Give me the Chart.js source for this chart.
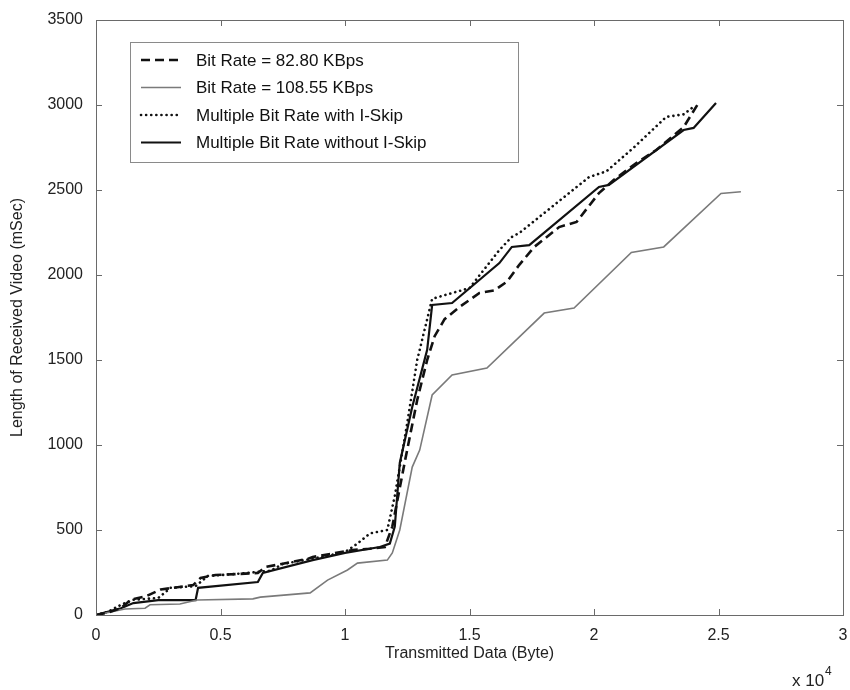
<!DOCTYPE html>
<html>
<head>
<meta charset="utf-8">
<script src="https://cdn.jsdelivr.net/npm/chart.js@4"></script>
<style>
  body { margin: 0; background: #fff; }
  #wrap { width: 850px; height: 690px; }
</style>
</head>
<body>
<div id="wrap"><canvas id="myChart" width="850" height="690"></canvas></div>
<script>
// x values are in units of 10^4 bytes, y in mSec
const seriesNames = ['Bit Rate = 82.80 KBps', 'Bit Rate = 108.55 KBps',
                     'Multiple Bit Rate with I-Skip', 'Multiple Bit Rate without I-Skip'];

const dashX = [0, 0.05, 0.1, 0.14, 0.2, 0.26, 0.32, 0.39, 0.42, 0.48, 0.65, 0.68, 0.85, 0.87, 1.03, 1.1, 1.16,
               1.19, 1.24, 1.29, 1.33, 1.36, 1.40, 1.46, 1.54, 1.60, 1.65, 1.70, 1.76, 1.86, 1.93, 2.02, 2.08,
               2.17, 2.25, 2.36, 2.42];
const dashY = [0, 15, 40, 90, 110, 150, 162, 176, 218, 235, 247, 282, 330, 341, 382, 390, 400,
               520, 900, 1265, 1500, 1640, 1740, 1812, 1894, 1910, 1960, 2060, 2165, 2282, 2312, 2482, 2560,
               2659, 2735, 2870, 3012];

const grayX = [0, 0.116, 0.197, 0.217, 0.337, 0.406, 0.63, 0.66, 0.86, 0.93, 1.01, 1.05, 1.17, 1.19, 1.22,
               1.27, 1.30, 1.35, 1.43, 1.57, 1.80, 1.92, 2.15, 2.28, 2.51, 2.59];
const grayY = [0, 35, 40, 60, 65, 88, 95, 105, 130, 205, 265, 305, 323, 365, 500,
               870, 970, 1294, 1412, 1453, 1776, 1806, 2133, 2165, 2480, 2490];

const dotX = [0, 0.05, 0.1, 0.15, 0.25, 0.3, 0.4, 0.45, 0.55, 0.7, 0.75, 0.9, 1.0, 1.05, 1.1, 1.17,
              1.2, 1.25, 1.29, 1.35, 1.43, 1.50, 1.62, 1.67, 1.70, 1.98, 2.05, 2.16, 2.29, 2.36, 2.40];
const dotY = [0, 20, 60, 90, 100, 160, 170, 230, 240, 260, 300, 340, 370, 420, 480, 500,
              700, 1130, 1500, 1860, 1894, 1923, 2147, 2224, 2247, 2576, 2610, 2750, 2930, 2945, 2990];

const solidX = [0, 0.1, 0.15, 0.25, 0.4, 0.41, 0.65, 0.67, 0.87, 1.0, 1.14, 1.18, 1.2, 1.22, 1.27, 1.33,
                1.35, 1.43, 1.62, 1.67, 1.74, 2.02, 2.06, 2.36, 2.40, 2.49];
const solidY = [0, 40, 70, 88, 88, 160, 194, 247, 323, 365, 400, 420, 520, 894, 1224, 1560,
                1824, 1835, 2070, 2165, 2176, 2518, 2530, 2853, 2865, 3012];

const xTicks = [0, 0.5, 1, 1.5, 2, 2.5, 3];
const yTicks = [0, 500, 1000, 1500, 2000, 2500, 3000, 3500];

function pts(xs, ys) {
    return xs.map((x, i) => ({x: x, y: ys[i]}));
}

const FONT = 'Liberation Sans, Arial, sans-serif';
const frameColor = '#6a6a6a';

// frame, inward tick marks on all four sides, and the x 10^4 label
const framePlugin = {
    id: 'frame',
    afterDraw(chart) {
        const ctx = chart.ctx;
        const a = chart.chartArea;
        const xs = chart.scales.x, ys = chart.scales.y;
        ctx.save();
        ctx.strokeStyle = frameColor;
        ctx.lineWidth = 1;
        ctx.strokeRect(a.left + 0.5, a.top + 0.5, a.right - a.left, a.bottom - a.top);
        ctx.beginPath();
        xTicks.forEach(v => {
            const px = Math.round(xs.getPixelForValue(v)) + 0.5;
            ctx.moveTo(px, a.bottom); ctx.lineTo(px, a.bottom - 6);
            ctx.moveTo(px, a.top); ctx.lineTo(px, a.top + 6);
        });
        yTicks.forEach(v => {
            const py = Math.round(ys.getPixelForValue(v)) + 0.5;
            ctx.moveTo(a.left, py); ctx.lineTo(a.left + 6, py);
            ctx.moveTo(a.right, py); ctx.lineTo(a.right - 6, py);
        });
        ctx.stroke();

        ctx.fillStyle = '#222';
        ctx.font = '17px ' + FONT;
        ctx.textBaseline = 'alphabetic';
        ctx.textAlign = 'left';
        ctx.fillText('x 10', 792, 686);
        ctx.font = '12px ' + FONT;
        ctx.fillText('4', 825, 675);
        ctx.restore();
    }
};

// legend box inside the plot, top-left
const legendPlugin = {
    id: 'boxLegend',
    afterDraw(chart) {
        const ctx = chart.ctx;
        const bx = 130, by = 42, bw = 388, bh = 120;
        ctx.save();
        ctx.fillStyle = '#fff';
        ctx.fillRect(bx, by, bw, bh);
        ctx.strokeStyle = '#8a8a8a';
        ctx.lineWidth = 1;
        ctx.strokeRect(bx + 0.5, by + 0.5, bw, bh);
        chart.data.datasets.forEach((ds, i) => {
            const y = by + 18 + i * 27.5;
            ctx.beginPath();
            ctx.strokeStyle = ds.borderColor;
            ctx.lineWidth = ds.borderWidth;
            ctx.setLineDash(ds.borderDash || []);
            ctx.lineCap = ds.borderCapStyle || 'butt';
            ctx.moveTo(141, y);
            ctx.lineTo(181, y);
            ctx.stroke();
            ctx.setLineDash([]);
            ctx.fillStyle = '#111';
            ctx.font = '17px ' + FONT;
            ctx.textBaseline = 'middle';
            ctx.textAlign = 'left';
            ctx.fillText(ds.label, 196, y + 1);
        });
        ctx.restore();
    }
};

const ctx = document.getElementById('myChart').getContext('2d');
const myChart = new Chart(ctx, {
    type: 'line',
    data: {
        datasets: [{
            label: seriesNames[0],
            data: pts(dashX, dashY),
            borderColor: '#111',
            borderWidth: 2.6,
            borderDash: [9, 5],
            fill: false
        }, {
            label: seriesNames[1],
            data: pts(grayX, grayY),
            borderColor: '#7a7a7a',
            borderWidth: 1.6,
            fill: false
        }, {
            label: seriesNames[2],
            data: pts(dotX, dotY),
            borderColor: '#111',
            borderWidth: 2.6,
            borderDash: [0.1, 5],
            borderCapStyle: 'round',
            fill: false
        }, {
            label: seriesNames[3],
            data: pts(solidX, solidY),
            borderColor: '#111',
            borderWidth: 2.2,
            fill: false
        }]
    },
    options: {
        responsive: false,
        animation: false,
        layout: { padding: { top: 20, right: 7, left: 0, bottom: 0 } },
        elements: { point: { radius: 0 }, line: { tension: 0 } },
        plugins: {
            legend: { display: false },
            tooltip: { enabled: false }
        },
        scales: {
            x: {
                type: 'linear',
                min: 0, max: 3,
                afterFit(scale) {
                    scale.height = 75;
                    scale.paddingLeft = 0;
                    scale.paddingRight = 0;
                },
                afterBuildTicks(scale) { scale.ticks = xTicks.map(v => ({value: v})); },
                grid: { display: false, drawTicks: false },
                border: { display: false },
                ticks: {
                    color: '#222',
                    font: { family: FONT, size: 16 },
                    padding: 11,
                    maxRotation: 0,
                    callback: v => String(v)
                },
                title: {
                    display: true,
                    text: 'Transmitted Data (Byte)',
                    color: '#222',
                    font: { family: FONT, size: 16 },
                    padding: { top: 0, bottom: 27 }
                }
            },
            y: {
                min: 0, max: 3500,
                afterFit(scale) {
                    scale.width = 96;
                    scale.paddingTop = 0;
                    scale.paddingBottom = 0;
                },
                afterBuildTicks(scale) { scale.ticks = yTicks.map(v => ({value: v})); },
                grid: { display: false, drawTicks: false },
                border: { display: false },
                ticks: {
                    color: '#222',
                    font: { family: FONT, size: 16 },
                    padding: 13,
                    callback: v => String(v)
                },
                title: {
                    display: true,
                    text: 'Length of Received Video (mSec)',
                    color: '#222',
                    font: { family: FONT, size: 16 },
                    padding: { top: 8, bottom: 0 }
                }
            }
        }
    },
    plugins: [framePlugin, legendPlugin]
});
</script>
</body>
</html>
